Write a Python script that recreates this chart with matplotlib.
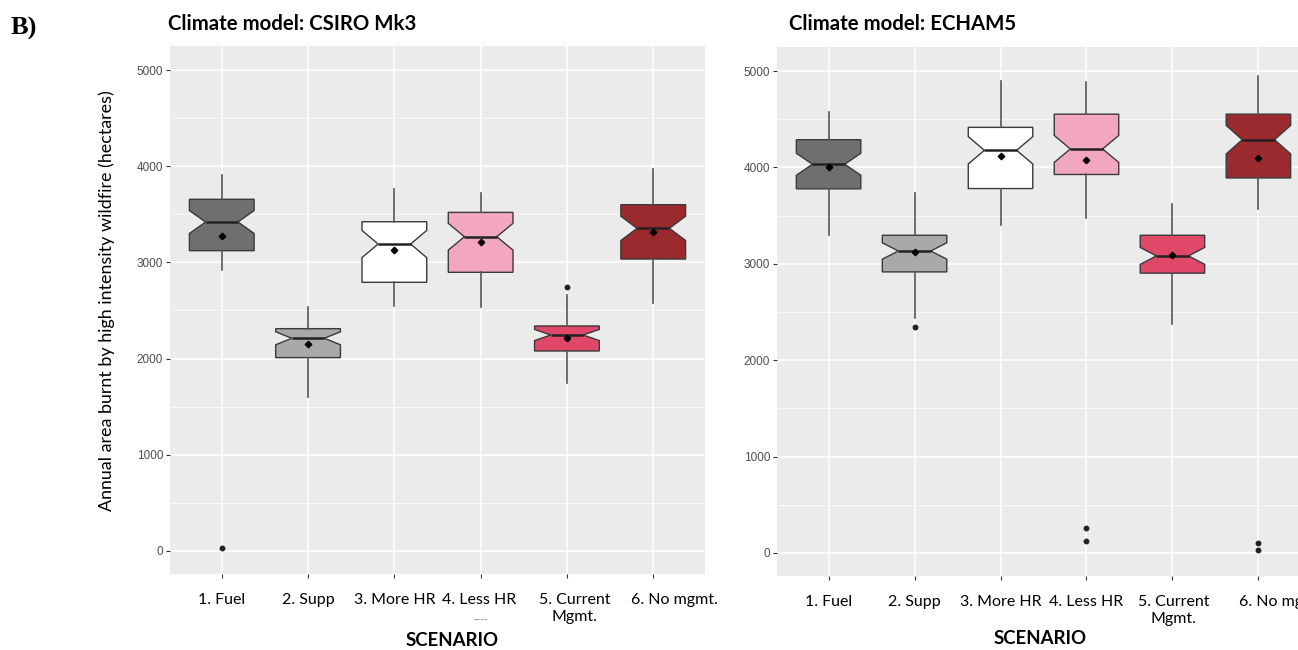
import numpy as np
import matplotlib.pyplot as plt
import matplotlib.transforms as mtransforms

# Scenario names and fill colours
scenarios = ["1. Fuel", "2. Supp", "3. More HR", "4. Less HR", "5. Current\nMgmt.", "6. No mgmt."]
box_colors = ["#6f6f6f", "#a9a9a9", "#ffffff", "#f2a7bf", "#df4868", "#9a2a2e"]

# Climate model: CSIRO Mk3 (hectares)
csiro_whislo = [2920, 1600, 2550, 2540, 1745, 2575]
csiro_q1 = [3122, 2010, 2793, 2897, 2079, 3035]
csiro_med = [3420, 2211, 3191, 3267, 2245, 3354]
csiro_q3 = [3656, 2311, 3423, 3520, 2339, 3600]
csiro_whishi = [3909, 2540, 3763, 3718, 2661, 3967]
csiro_mean = [3278, 2152, 3133, 3215, 2218, 3320]
csiro_outliers = [[28], [], [], [], [2742], []]

# Climate model: ECHAM5 (hectares)
echam_whislo = [3299, 2434, 3402, 3478, 2375, 3565]
echam_q1 = [3778, 2916, 3781, 3927, 2903, 3891]
echam_med = [4033, 3133, 4178, 4192, 3082, 4288]
echam_q3 = [4288, 3296, 4416, 4553, 3296, 4553]
echam_whishi = [4574, 3737, 4902, 4891, 3623, 4950]
echam_mean = [4009, 3120, 4116, 4081, 3089, 4098]
echam_outliers = [[], [2348], [], [262, 127], [], [107, 31]]

n_years = 50  # sample size used for the notches (ggplot rule)


def draw_panel(ax, whislo, q1, med, q3, whishi, mean, outliers, label_shift):
    stats = []
    for i in range(len(scenarios)):
        half = 1.58 * (q3[i] - q1[i]) / np.sqrt(n_years)
        stats.append(dict(whislo=whislo[i], q1=q1[i], med=med[i], q3=q3[i], whishi=whishi[i],
                          mean=mean[i], cilo=med[i] - half, cihi=med[i] + half, fliers=outliers[i]))
    bp = ax.bxp(stats, positions=range(1, 7), widths=0.75, shownotches=True, patch_artist=True,
                showmeans=True, showcaps=False, zorder=3,
                boxprops=dict(edgecolor='#3a3a3a', linewidth=1),
                medianprops=dict(color='#222222', linewidth=1.8),
                whiskerprops=dict(color='#555555', linewidth=1.2),
                meanprops=dict(marker='D', markerfacecolor='black', markeredgecolor='black', markersize=3.3),
                flierprops=dict(marker='o', markerfacecolor='#222222', markeredgecolor='#222222', markersize=3.2))
    for patch, c in zip(bp['boxes'], box_colors):
        patch.set_facecolor(c)

    # ggplot-like grey panel
    ax.set_facecolor('#ebebeb')
    for s in ax.spines.values():
        s.set_visible(False)
    ax.set_xlim(0.4, 6.6)
    ax.set_ylim(-240, 5250)
    ax.set_yticks([0, 1000, 2000, 3000, 4000, 5000])
    ax.set_yticks([500, 1500, 2500, 3500, 4500], minor=True)
    ax.set_xticks(range(1, 7))
    ax.set_xticklabels(scenarios, family='Lato', fontsize=11.5, color='black', linespacing=1.25)
    ax.grid(True, which='major', color='white', linewidth=1.1, zorder=0)
    ax.grid(True, which='minor', axis='y', color='white', linewidth=0.5, zorder=0)
    ax.set_axisbelow(True)
    ax.tick_params(axis='y', which='major', length=3, color='#333333', labelcolor='#4d4d4d', labelsize=8.5, pad=2)
    ax.tick_params(axis='y', which='minor', length=0)
    ax.tick_params(axis='x', length=3, color='#333333', pad=11)
    for lab in ax.get_yticklabels():
        lab.set_family('Liberation Sans')
    # some labels sit a bit to the right of their tick in the original
    for lab, dx in zip(ax.get_xticklabels(), label_shift):
        lab.set_transform(lab.get_transform() + mtransforms.ScaledTranslation(dx / 100, 0, fig.dpi_scale_trans))


fig = plt.figure(figsize=(12.98, 6.5), dpi=100)

ax1 = fig.add_axes([170 / 1298, 76 / 650, 535 / 1298, 528 / 650])
draw_panel(ax1, csiro_whislo, csiro_q1, csiro_med, csiro_q3, csiro_whishi, csiro_mean, csiro_outliers,
           [0, 0, 0, -2, 8, 21])

ax2 = fig.add_axes([777 / 1298, 74 / 650, 533 / 1298, 529 / 650])
draw_panel(ax2, echam_whislo, echam_q1, echam_med, echam_q3, echam_whishi, echam_mean, echam_outliers,
           [0, 0, 0, 0, 1, 24])

# Textes
fig.text(11 / 1298, 1 - 35 / 650, 'B)', family='Liberation Serif', weight='bold', fontsize=19)
fig.text(168 / 1298, 1 - 30 / 650, 'Climate model: CSIRO Mk3', family='Lato', weight='bold', fontsize=14.7)
fig.text(789 / 1298, 1 - 30 / 650, 'Climate model: ECHAM5', family='Lato', weight='bold', fontsize=14.7)
fig.text(107 / 1298, 1 - 301 / 650, 'Annual area burnt by high intensity wildfire (hectares)',
         family='Lato', fontsize=12.9, rotation=90, ha='center', va='center')
fig.text(452 / 1298, 1 - 641 / 650, 'SCENARIO', family='Lato', weight='bold', fontsize=13.4, ha='center', va='center')
fig.text(1040 / 1298, 1 - 639 / 650, 'SCENARIO', family='Lato', weight='bold', fontsize=13.4, ha='center', va='center')
fig.text(481 / 1298, 1 - 620 / 650, '----', family='Lato', fontsize=7, color='#777777', ha='center', va='center')

fig.savefig('out.png', dpi=100)
